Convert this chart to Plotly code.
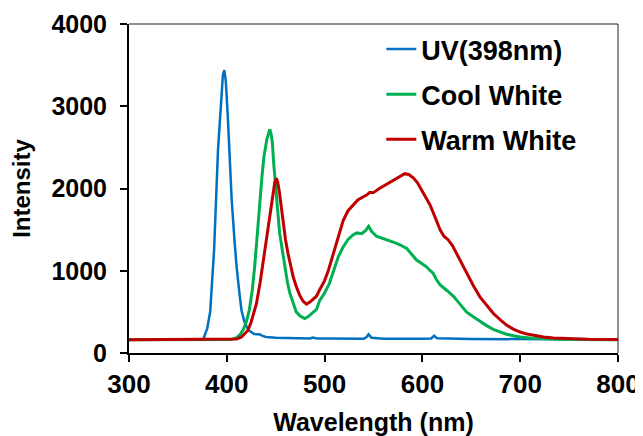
import plotly.graph_objects as go

# UV (398nm) spectrum
uv_wl = [300, 350, 370, 376, 380, 383, 387, 391, 394, 396, 397.5, 399, 401, 403, 405, 408, 410, 413, 415, 418,
         422, 428, 434, 436, 440, 450, 470, 485, 488, 492, 500, 520, 540, 543, 545, 548, 560, 600, 609, 612, 615,
         650, 700, 750, 800]
uv_int = [160, 160, 162, 170, 300, 500, 1250, 2470, 3080, 3380, 3440, 3300, 2880, 2350, 1860, 1350, 1050, 720, 520, 380,
          280, 232, 225, 212, 195, 185, 180, 176, 188, 176, 175, 170, 172, 195, 228, 185, 172, 172, 176, 210, 178,
          170, 168, 165, 165]

# Cool White spectrum
cw_wl = [300, 400, 405, 410, 414, 417, 420, 423, 426, 428.5, 431, 433.5, 436, 438, 441, 443, 444, 445.5, 446.6, 448,
         450, 452, 454, 457, 459.3, 462, 464.4, 468, 471, 475, 479.7, 483, 487, 491.7, 495, 500, 505, 509, 514, 519,
         524, 529, 533, 538, 542, 545, 548, 553, 558, 563, 568, 573, 578, 584, 589, 594, 599, 604, 608, 611,
         614, 618, 625, 632, 638, 645, 652, 659, 666, 673, 680, 686, 693, 700, 710, 720, 740, 760, 800]
cw_int = [160, 160, 165, 185, 230, 290, 380, 520, 760, 1050, 1450, 1860, 2150, 2390, 2600, 2680, 2720, 2650, 2560, 2300,
          1990, 1700, 1460, 1230, 1050, 860, 730, 590, 500, 450, 420, 440, 480, 530, 640, 730, 850, 1000, 1170, 1290,
          1380, 1435, 1460, 1450, 1490, 1540, 1480, 1420, 1400, 1375, 1360, 1335, 1310, 1270, 1200, 1130, 1090, 1050, 1000, 970,
          900, 830, 760, 685, 600, 500, 440, 380, 330, 285, 250, 228, 210, 195, 183, 175, 168, 165, 162]

# Warm White spectrum
ww_wl = [300, 405, 410, 415, 418, 421.7, 425, 428, 430.3, 434, 437, 440, 443.9, 447, 449, 450.7, 452, 454, 456, 457.5,
         460, 462.6, 465, 467.8, 471, 474.6, 478, 481.5, 485, 488, 491.7, 495, 500, 504, 509, 514, 519, 524, 529, 534,
         539.5, 543, 546, 550, 556, 562, 567, 573.7, 578, 582, 586, 590.7, 595, 599.3, 603, 607.8, 612, 618, 622, 626.5,
         631, 635, 640, 645, 652, 659, 666, 672.6, 680, 686, 693, 700, 707, 714, 724, 734, 750, 770, 800]
ww_int = [160, 162, 170, 195, 230, 277, 380, 500, 600, 850, 1090, 1380, 1700, 1950, 2070, 2125, 2080, 1940, 1750, 1580,
          1380, 1210, 1060, 930, 810, 700, 630, 595, 620, 650, 690, 770, 880, 1010, 1210, 1420, 1610, 1730, 1800, 1860,
          1900, 1920, 1950, 1950, 2000, 2040, 2070, 2125, 2150, 2180, 2170, 2130, 2070, 1985, 1900, 1800, 1680, 1500, 1420, 1375,
          1300, 1210, 1100, 970, 820, 680, 570, 480, 400, 340, 290, 255, 230, 215, 195, 183, 175, 168, 165]

x_ticks = [300, 400, 500, 600, 700, 800]
y_ticks = [0, 1000, 2000, 3000, 4000]

FONT = "Liberation Sans, Arial, sans-serif"

fig = go.Figure()
fig.add_trace(go.Scatter(x=uv_wl, y=uv_int, mode="lines", name="UV(398nm)", legendgroup="a",
                         line=dict(color="#0070C0", width=2.5)))
fig.add_trace(go.Scatter(x=cw_wl, y=cw_int, mode="lines", name="Cool White", legendgroup="b",
                         line=dict(color="#00B050", width=3)))
fig.add_trace(go.Scatter(x=ww_wl, y=ww_int, mode="lines", name="Warm White", legendgroup="c",
                         line=dict(color="#C00000", width=3)))

# page body has an 8px margin, so the figure is 8px smaller than the window
fig.update_layout(
    width=635, height=428,
    margin=dict(l=121, r=25, t=16, b=83, autoexpand=False),
    paper_bgcolor="white", plot_bgcolor="white",
    font=dict(family=FONT, color="black"),
    showlegend=True,
    legend=dict(x=0.516, y=0.997, xanchor="left", yanchor="top",
                font=dict(family=FONT, size=27, weight=700, color="black"),
                bgcolor="rgba(0,0,0,0)", tracegroupgap=7, itemwidth=30),
    xaxis=dict(range=[300, 800], tickvals=x_ticks, ticktext=[str(v) for v in x_ticks], automargin=False,
               showgrid=False, zeroline=False, showline=True, linecolor="black", linewidth=2,
               ticks="outside", ticklen=7, tickwidth=1.5, tickcolor="black",
               tickfont=dict(family=FONT, size=26, weight=700), ticklabelstandoff=0,
               title=dict(text="Wavelength (nm)", font=dict(family=FONT, size=25, weight=700), standoff=23)),
    yaxis=dict(range=[0, 4000], tickvals=y_ticks, ticktext=[str(v) for v in y_ticks], automargin=False,
               showgrid=False, zeroline=False, showline=True, linecolor="black", linewidth=2,
               ticks="outside", ticklen=7, tickwidth=1.5, tickcolor="black",
               tickfont=dict(family=FONT, size=25, weight=700), ticklabelstandoff=8,
               title=dict(text="Intensity", font=dict(family=FONT, size=24, weight=700), standoff=16)),
)
# thin box lines on top and right
fig.add_shape(type="line", xref="paper", yref="paper", x0=0, x1=1, y0=1, y1=1,
              line=dict(color="#222", width=1))
fig.add_shape(type="line", xref="paper", yref="paper", x0=1, x1=1, y0=0, y1=1,
              line=dict(color="#222", width=1))

fig.write_html("out.html")
